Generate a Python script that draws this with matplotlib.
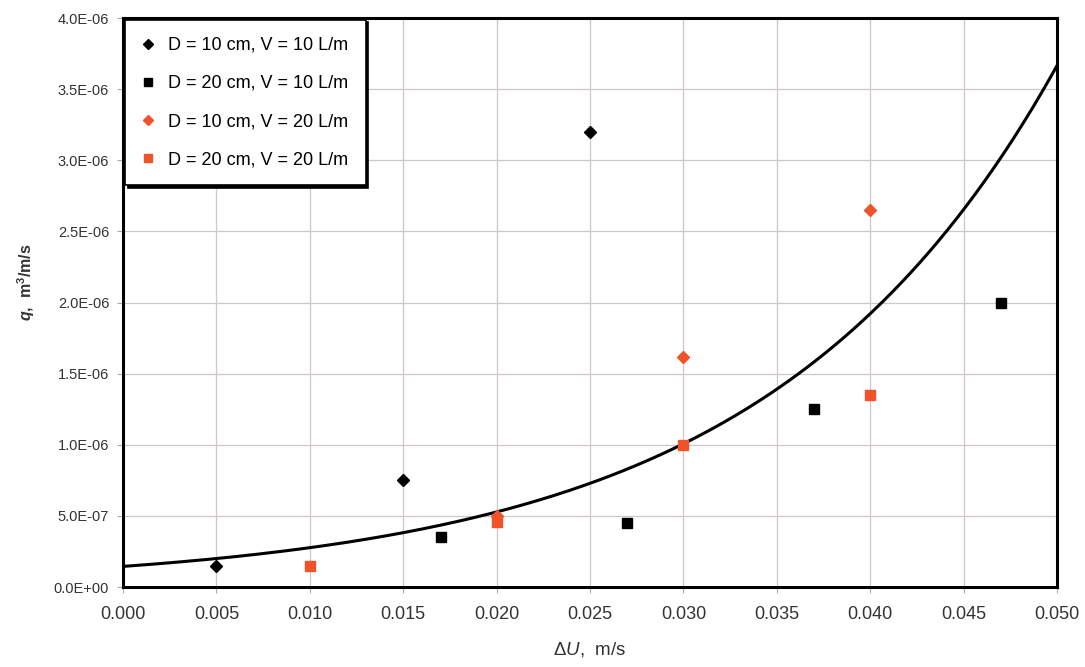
import numpy as np
import matplotlib
matplotlib.use("Agg")
import matplotlib.pyplot as plt

plt.rcParams["font.family"] = ["Liberation Sans", "DejaVu Sans"]
plt.rcParams["mathtext.fontset"] = "custom"
plt.rcParams["mathtext.rm"] = "Liberation Sans"
plt.rcParams["mathtext.it"] = "Liberation Sans:italic"
plt.rcParams["mathtext.bf"] = "Liberation Sans:bold"
plt.rcParams["mathtext.bfit"] = "Liberation Sans:bold:italic"

# Dati
du_d10_v10 = [0.005, 0.015, 0.025]
q_d10_v10 = [1.5e-7, 7.5e-7, 3.2e-6]

du_d20_v10 = [0.017, 0.027, 0.037, 0.047]
q_d20_v10 = [3.5e-7, 4.5e-7, 1.25e-6, 2.0e-6]

du_d10_v20 = [0.020, 0.030, 0.040]
q_d10_v20 = [5.0e-7, 1.62e-6, 2.65e-6]

du_d20_v20 = [0.010, 0.020, 0.030, 0.040]
q_d20_v20 = [1.5e-7, 4.6e-7, 1.0e-6, 1.35e-6]

# Linea di tendenza esponenziale q = a * exp(b * dU)
trend_a = 1.45e-7
trend_b = 64.6

labels = [
    "D = 10 cm, V = 10 L/m",
    "D = 20 cm, V = 10 L/m",
    "D = 10 cm, V = 20 L/m",
    "D = 20 cm, V = 20 L/m",
]

red = "#f0522a"

fig = plt.figure(figsize=(10.85, 6.67), dpi=100)
ax = fig.add_axes([0.1134, 0.1199, 0.8608, 0.8531])

ax.plot(du_d10_v10, q_d10_v10, ls="none", marker="D", ms=6, color="black", label=labels[0])
ax.plot(du_d20_v10, q_d20_v10, ls="none", marker="s", ms=7.5, color="black", label=labels[1])
ax.plot(du_d10_v20, q_d10_v20, ls="none", marker="D", ms=6, color=red, label=labels[2])
ax.plot(du_d20_v20, q_d20_v20, ls="none", marker="s", ms=7.5, color=red, label=labels[3])

xs = np.linspace(0, 0.05, 300)
ax.plot(xs, trend_a * np.exp(trend_b * xs), color="black", lw=2.2, zorder=1)

xt = np.arange(0, 0.0501, 0.005)
yt = np.arange(0, 4.01e-6, 0.5e-6)
ax.set_xlim(0, 0.05)
ax.set_ylim(0, 4e-6)
ax.set_xticks(xt)
ax.set_yticks(yt)
ax.set_xticklabels([f"{v:.3f}" for v in xt], fontsize=13, color="#333333")
ax.set_yticklabels([f"{v:.1E}" for v in yt], fontsize=10.5, color="#333333")
ax.tick_params(axis="both", length=4, width=0.8, color="#aaaaaa", pad=6)
ax.tick_params(axis="x", pad=10)

ax.grid(True, color="#cfc6cf", lw=0.9)
ax.set_axisbelow(True)
for s in ax.spines.values():
    s.set_linewidth(2.2)
    s.set_color("black")

ax.set_xlabel(r"$\mathit{\Delta U}$,  m/s", fontsize=13.5, color="#333333", labelpad=12)
ax.set_ylabel(r"$\mathbfit{q}$,  $\mathbf{m^{3}}$/m/s", fontsize=11.5, fontweight="bold",
              color="#333333")
ax.yaxis.set_label_coords(-0.092, 0.536)

leg = ax.legend(loc="upper left", bbox_to_anchor=(0.002, 0.997), fontsize=13,
                frameon=True, fancybox=False, shadow={"color": "black", "alpha": 1},
                handlelength=0.7, handletextpad=0.75, labelspacing=1.17,
                borderpad=0.95, borderaxespad=0, markerscale=0.85)
leg.get_frame().set_edgecolor("black")
leg.get_frame().set_linewidth(1.2)

fig.savefig("out.png", dpi=100)
